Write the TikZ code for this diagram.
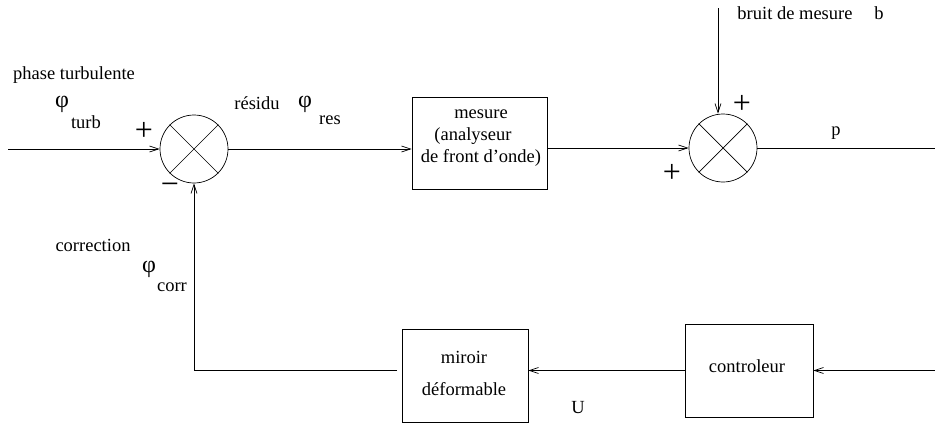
\documentclass[tikz,border=0pt]{standalone}
\usepackage{fontspec}
\setmainfont{Liberation Serif}
\usetikzlibrary{arrows.meta}
\begin{document}
\begin{tikzpicture}[x=1pt,y=-1pt,
  every node/.style={font=\fontsize{18.5}{22}\selectfont, inner sep=0pt},
  sign/.style={font=\fontsize{32}{34}\selectfont},
  greek/.style={font=\fontsize{24}{26}\selectfont},
  line/.style={line width=0.7pt},
  arr/.style={line, -{Straight Barb[length=9pt,width=6pt,line width=0.7pt]}},
  summer/.style={draw, line width=0.7pt, circle, minimum size=68pt},
  blockbox/.style={draw, line width=0.7pt, minimum width=#1},
]
\useasboundingbox (0,0) rectangle (935,423);
% summers
\node[summer] (s1) at (194,149) {};
\draw[line] (s1.45) -- (s1.225) (s1.135) -- (s1.315);
\node[summer] (s2) at (723,148) {};
\draw[line] (s2.45) -- (s2.225) (s2.135) -- (s2.315);
% blocks
\node[blockbox=135pt, minimum height=92pt] (mes) at (479.5,143) {};
\node[blockbox=126pt, minimum height=93pt] (mir) at (465,375.5) {};
\node[blockbox=128pt, minimum height=93pt] (ctl) at (749,370.5) {};
% free ends
\coordinate (in) at (8,149);
\coordinate (noise) at (718,8);
\coordinate (out) at (935,148);
\coordinate (cin) at (935,370.5);
\coordinate (fb) at (397,370.5);
% connectors
\draw[arr] (in) -- (s1.west);
\draw[arr] (s1.east) -- (mes.west |- s1.east);
\draw[arr] (mes.east |- s2.west) -- (s2.west);
\draw[arr] (noise) -- (noise |- s2.north);
\draw[line] (s2.east) -- (out);
\draw[arr] (cin) -- (ctl.east);
\draw[arr] (ctl.west) -- (mir.east |- ctl.west);
\draw[arr] (fb) -| (s1.south);
% texts
\node (tphase) at (74,75) {phase turbulente};
\node[greek] (tphi1) at (62,104) {φ};
\node (tturb) at (86,122) {turb};
\node[sign] (tp1) at (144,131) {+};
\node[sign] (tm1) at (170,189) {−};
\node (tres) at (257,103) {résidu};
\node[greek] (tphi2) at (305,104) {φ};
\node (tressub) at (330,120) {res};
\node[align=center, font=\fontsize{18.5}{22}\selectfont] (tmes) at (481,138) {mesure\\\hspace*{-16pt}(analyseur\\ de front d’onde)};
\node (tbruit) at (795,13) {bruit de mesure};
\node (tb) at (879,13) {b};
\node[sign] (tp2) at (742,104) {+};
\node[sign] (tp3) at (672,173) {+};
\node (tpp) at (836,133) {p};
\node (tcorr) at (93,245) {correction};
\node[greek] (tphi3) at (149,269) {φ};
\node (tcorrsub) at (172,287) {corr};
\node[align=center, font=\fontsize{18.5}{32}\selectfont] (tmir) at (464,373) {miroir\\déformable};
\node (tctl) at (747,366) {controleur};
\node (tU) at (578,408) {U};
\end{tikzpicture}
\end{document}
